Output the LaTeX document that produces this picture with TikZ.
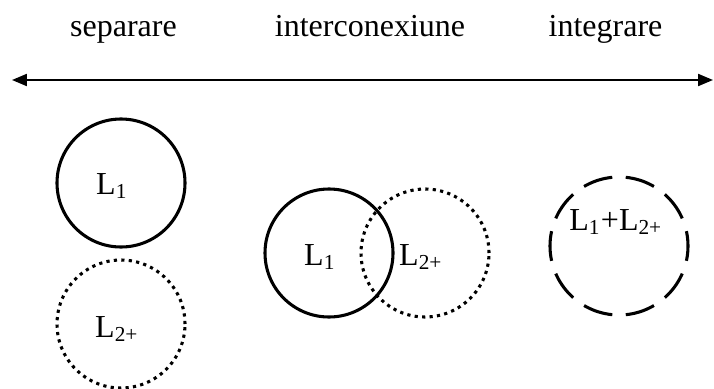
\documentclass[tikz,border=0pt]{standalone}
\usepackage{fontspec}
\setmainfont{Liberation Serif}
\usetikzlibrary{arrows.meta}

\begin{document}
\begin{tikzpicture}[x=0.375pt,y=-0.375pt,
    font=\fontsize{12pt}{14pt}\selectfont,
    ring/.style={circle,draw,line width=1.15pt,inner sep=0pt,minimum size=48pt},
    dotring/.style={ring,dash pattern=on 1.2pt off 1.6pt},
    dashring/.style={ring,minimum size=51.75pt,dash pattern=on 11.2pt off 5.06pt,dash phase=5.6pt}]

      \useasboundingbox (0,0) rectangle (714,389);

      \node[anchor=base] (sep) at (123.5,37) {separare};
      \node[anchor=base] (inter) at (370,37) {interconexiune};
      \node[anchor=base] (integ) at (605.5,37) {integrare};

      \coordinate (axisL) at (12,80);
      \coordinate (axisR) at (713,80);
      \draw[line width=0.75pt,{Triangle[length=5.6pt,width=4.5pt]}-{Triangle[length=5.6pt,width=4.5pt]}] (axisL) -- (axisR);

      % separare
      \node[ring] (sepA) at (121,183) {};
      \node[dotring] (sepB) at (121,324) {};
      \node[anchor=base] (sepAl) at (112,194) {L\textsubscript{1}};
      \node[anchor=base] (sepBl) at (117,337) {L\textsubscript{2+}};

      % interconexiune
      \node[ring] (intA) at (329,253) {};
      \node[dotring] (intB) at (425,253) {};
      \node[anchor=base] (intAl) at (320,265) {L\textsubscript{1}};
      \node[anchor=base] (intBl) at (421,265) {L\textsubscript{2+}};

      % integrare
      \node[dashring] (integC) at (619,246) {};
      \node[anchor=base] (integCl) at (616,230) {L\textsubscript{1}+L\textsubscript{2+}};

    \end{tikzpicture}
\end{document}
